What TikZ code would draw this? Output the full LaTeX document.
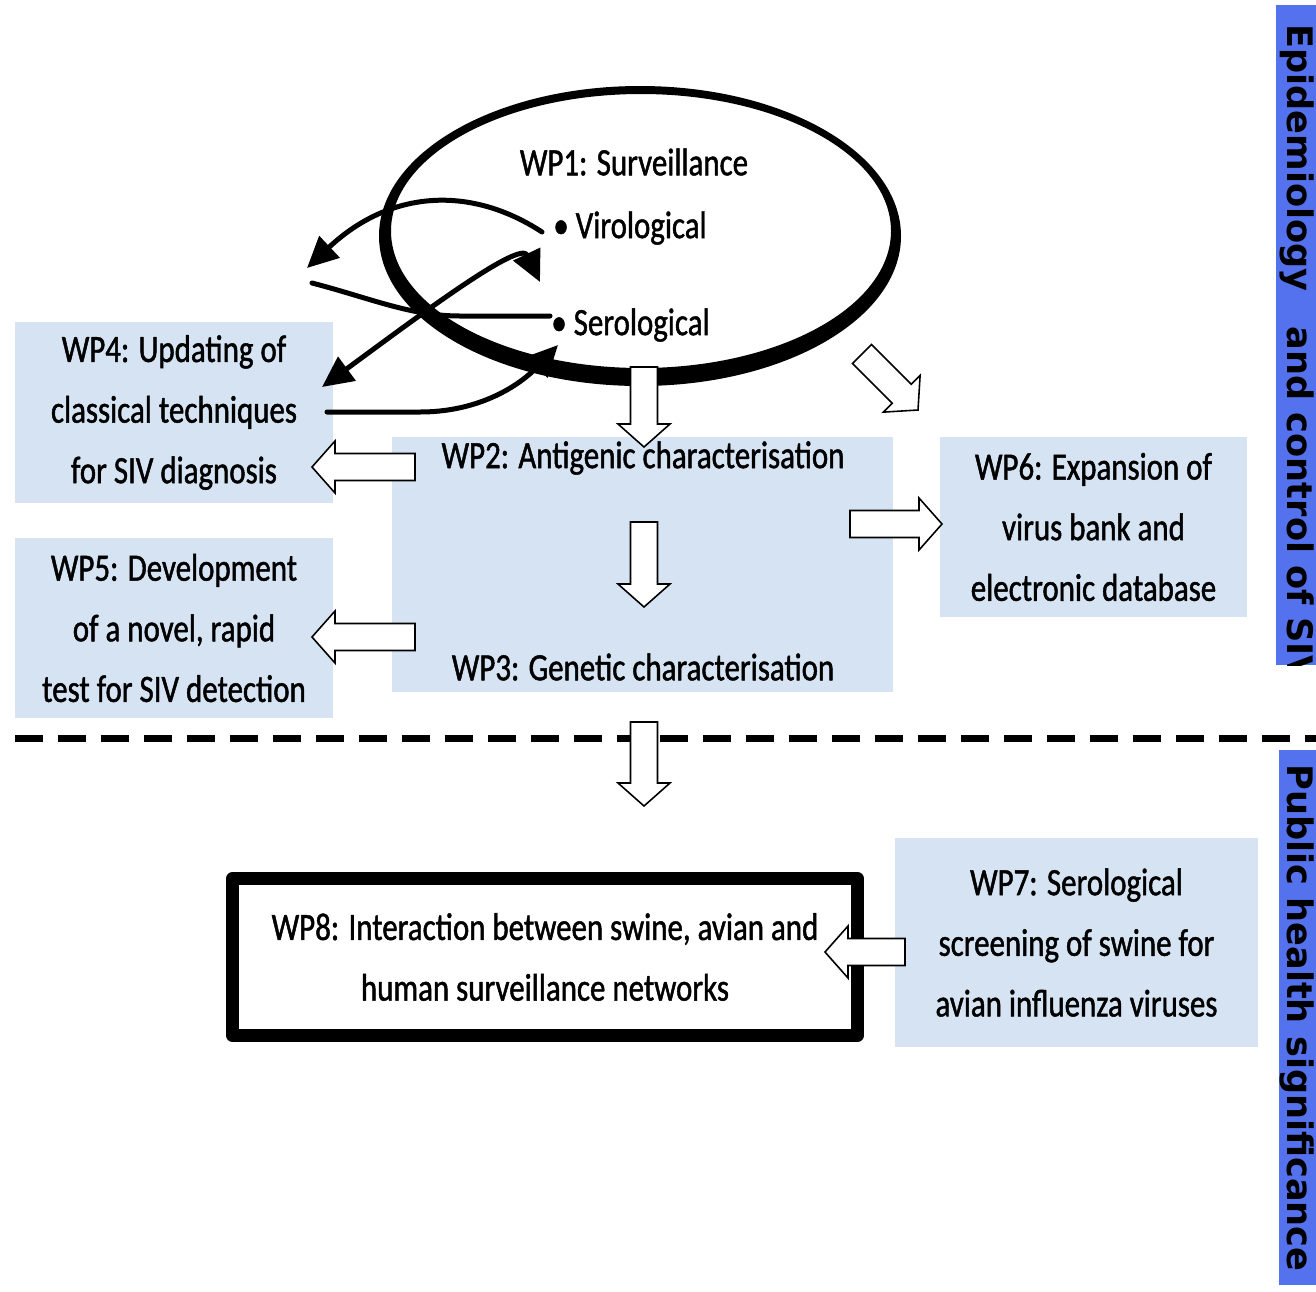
\documentclass[tikz,border=0pt]{standalone}
\usepackage{fontspec}
\setmainfont{Carlito}[FakeStretch=0.8,FakeBold=1.2]
\newfontfamily\barfont{DejaVu Sans}
\usetikzlibrary{arrows.meta,calc}

\definecolor{boxblue}{RGB}{213,227,243}
\definecolor{barblue}{RGB}{84,114,238}
\newcommand{\wpfont}{\fontsize{22}{34.5}\selectfont}

% block arrow from #1 to tip #2
\newcommand{\hollowarrow}[2]{%
  \coordinate (hb) at ($(#2)!0.46cm!(#1)$);
  \draw[hollow] ($(#1)!0.27cm!-90:(#2)$) -- ($(hb)!0.27cm!-90:(#2)$) -- ($(hb)!0.52cm!-90:(#2)$) -- (#2)
    -- ($(hb)!0.52cm!90:(#2)$) -- ($(hb)!0.27cm!90:(#2)$) -- ($(#1)!0.27cm!90:(#2)$) -- cycle;}

\begin{document}
\begin{tikzpicture}[x=0.02cm,y=-0.02cm,line cap=round,line join=round,
  wpbox/.style={fill=boxblue,inner sep=0pt,align=center,font=\wpfont},
  wptext/.style={inner sep=0pt,font=\wpfont},
  hollow/.style={draw=black,fill=white,line width=0.9pt,line join=miter},
  link/.style={line width=0.1cm},
  tri/.style={-{Triangle[length=0.62cm,width=0.58cm]}},
  bartext/.style={rotate=-90,anchor=west,inner sep=0pt,font=\barfont\bfseries\fontsize{20}{24}\selectfont}]
\useasboundingbox (0,0) rectangle (1316,1292);

\fill[barblue] (1276,5) rectangle (1316,665);
\fill[barblue] (1279,750) rectangle (1316,1285);
\begin{scope}
\clip (1276,5) rectangle (1316,665);
\node[bartext] (epi) at (1297,24) {Epidemiology\quad and control of SIV};
\end{scope}
\node[bartext] (pub) at (1297,764) {Public health significance};

\draw[line width=0.14cm,line cap=butt,dash pattern=on 0.56cm off 0.3cm] (15,738) -- (1316,738);

\node[wpbox,minimum width=6.36cm,minimum height=3.62cm] (wp4) at (174,412.5) {WP4: Updating of\\classical techniques\\for SIV diagnosis};
\node[wpbox,minimum width=6.36cm,minimum height=3.6cm] (wp5) at (174,628) {WP5: Development\\of a novel, rapid\\test for SIV detection};
\node[wpbox,minimum width=10.02cm,minimum height=5.1cm] (wp23) at (642.5,564.5) {};
\node[wpbox,minimum width=6.14cm,minimum height=3.6cm] (wp6) at (1093.5,527) {WP6: Expansion of\\virus bank and\\electronic database};
\node[wpbox,minimum width=7.26cm,minimum height=4.18cm] (wp7) at (1076.5,942.5) {WP7: Serological\\screening of swine for\\avian influenza viruses};
\node[draw,fill=white,line width=0.26cm,minimum width=12.5cm,minimum height=3.14cm,align=center,font=\wpfont] (wp8) at (545,957) {WP8: Interaction between swine, avian and\\human surveillance networks};

% WP1 ring, thin on top, heavy underneath
\fill[black,even odd rule] (640,236) ellipse [x radius=261, y radius=150]
  (641,231) ellipse [x radius=250, y radius=137];

\coordinate (viro) at (542,232);
\coordinate (viroin) at (540,282);
\coordinate (sero) at (550,316);
\coordinate (seroin) at (558,345);
\coordinate (up4) at (307,268);
\coordinate (mid4) at (312,283);
\coordinate (low4) at (322,387);
\coordinate (out4) at (327,412);

\draw[link,tri] (viro) .. controls (470,185) and (390,190) .. (up4);
\draw[link] (mid4) .. controls (370,298) and (410,316) .. (460,316) -- (sero);
\draw[link,{Triangle[length=0.62cm,width=0.58cm]}-{Triangle[length=0.62cm,width=0.58cm]}] (low4) .. controls (420,315) and (520,240) .. (viroin);
\draw[link,tri] (out4) -- (420,412) .. controls (480,412) and (520,385) .. (seroin);

\coordinate (a1) at (644,367);   \coordinate (a1t) at (644,447);
\coordinate (a2) at (862,354);   \coordinate (a2t) at (918,410);
\coordinate (a3) at (415,467);   \coordinate (a3t) at (312,467);
\coordinate (a4) at (644,522);   \coordinate (a4t) at (644,607);
\coordinate (a5) at (850,524);   \coordinate (a5t) at (942,524);
\coordinate (a6) at (415,637);   \coordinate (a6t) at (312,637);
\coordinate (a7) at (644,722);   \coordinate (a7t) at (644,806);
\coordinate (a8) at (905,952);   \coordinate (a8t) at (825,952);
\hollowarrow{a1}{a1t}
\hollowarrow{a2}{a2t}
\hollowarrow{a3}{a3t}
\hollowarrow{a4}{a4t}
\hollowarrow{a5}{a5t}
\hollowarrow{a6}{a6t}
\hollowarrow{a7}{a7t}
\hollowarrow{a8}{a8t}

\node[wptext] (wp1) at (634,162) {WP1: Surveillance};
\node[wptext,anchor=west] (vir) at (553,228) {\textbullet\ Virological};
\node[wptext,anchor=west] (ser) at (551,325) {\textbullet\ Serological};
\node[wptext] (wp2) at (643,458) {WP2: Antigenic characterisation};
\node[wptext] (wp3) at (643,667) {WP3: Genetic characterisation};
\end{tikzpicture}
\end{document}
